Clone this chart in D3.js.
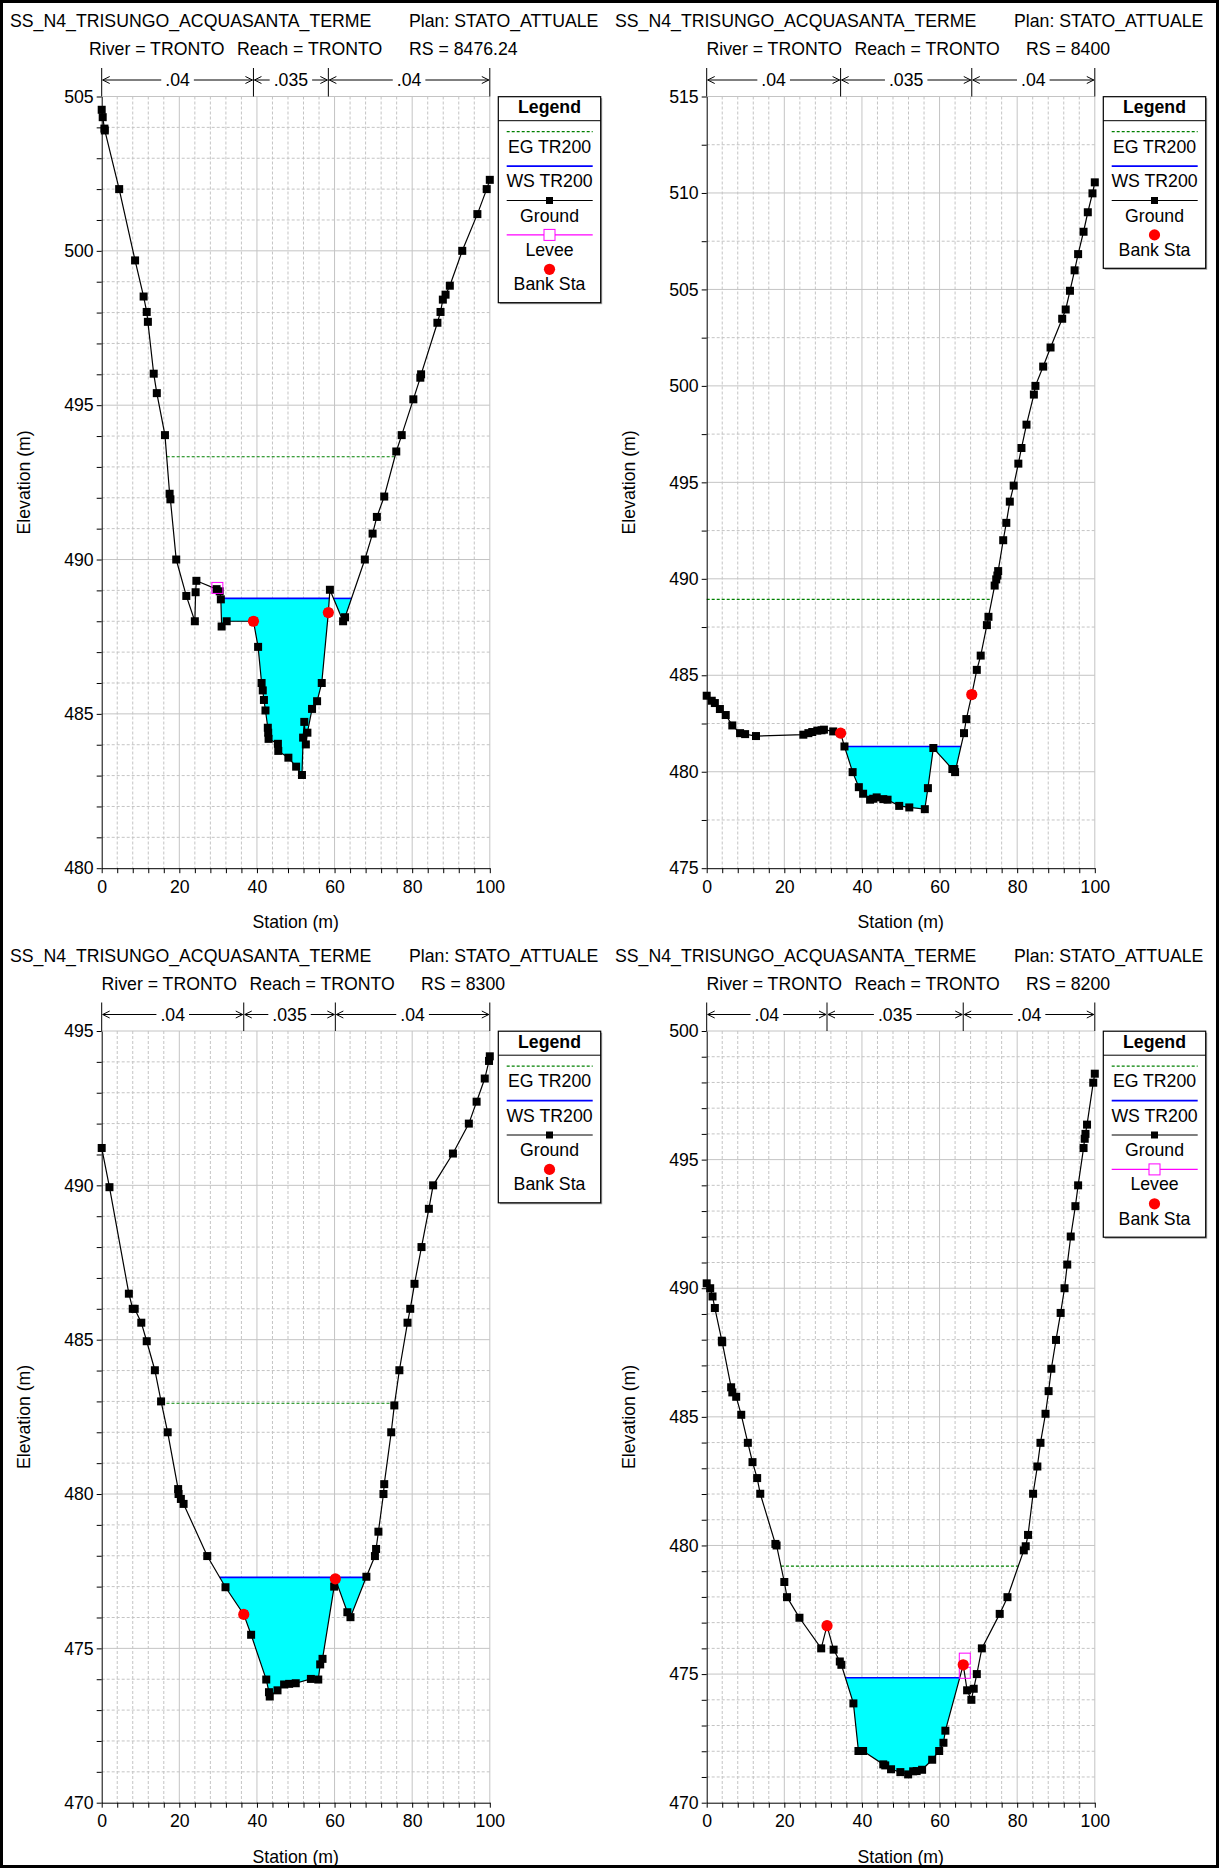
<!DOCTYPE html>
<html><head><meta charset="utf-8">
<script src="https://cdn.jsdelivr.net/npm/d3@7"></script>
<style>
body{margin:0;background:#fff;}
svg{display:block;}
text{font-family:"Liberation Sans",Arial,sans-serif;fill:#000;}
</style>
</head><body>
<svg id="c" width="1219" height="1868"></svg>
<script>
// ---------- DATA ----------
const titleText = "SS_N4_TRISUNGO_ACQUASANTA_TERME";
const planText = "Plan: STATO_ATTUALE";
const riverText = "River = TRONTO";
const reachText = "Reach = TRONTO";
const rsValues = ["8476.24", "8400", "8300", "8200"];
const mannN = [".04", ".035", ".04"];
const xTickValues = [0, 20, 40, 60, 80, 100];
const yDomains = [[480, 505], [475, 515], [470, 495], [470, 500]];
const yMinorSteps = [1, 2.5, 1, 1];
const wsElev = [488.74, 481.31, 477.30, 474.86];
const egElev = [493.33, 488.93, 482.94, 479.20];
const legendNames = ["EG TR200", "WS TR200", "Ground", "Levee", "Bank Sta"];

const ground1 = [[0,504.57],[0.26,504.33],[0.7,503.96],[0.8,503.9],[4.5,502.0],[8.6,499.69],[10.8,498.52],[11.6,498.02],[11.9,497.7],[13.4,496.02],[14.2,495.39],[16.3,494.03],[17.5,492.13],[17.7,491.95],[19.2,490.0],[21.8,488.82],[24.0,488.0],[24.2,488.94],[24.4,489.31],[29.6,489.04],[30.4,488.97],[30.7,488.71],[30.9,487.83],[32.2,488.0],[39.1,488.0],[40.3,487.17],[41.2,486.0],[41.5,485.76],[41.8,485.45],[42.2,485.11],[42.8,484.55],[42.9,484.39],[43.0,484.19],[45.4,484.03],[45.5,483.8],[48.1,483.58],[50.1,483.29],[51.6,483.02],[51.9,484.23],[52.2,484.74],[52.6,484.01],[53.0,484.39],[54.2,485.16],[55.5,485.41],[56.7,486.0],[58.4,488.28],[58.8,489.02],[62.2,488.0],[62.7,488.13],[67.8,490.0],[69.8,490.84],[70.9,491.38],[72.8,492.04],[75.9,493.5],[77.3,494.03],[80.3,495.19],[82.1,495.89],[82.3,496.0],[86.5,497.67],[87.3,498.02],[87.9,498.42],[88.6,498.58],[89.7,498.87],[92.9,500.0],[96.8,501.19],[99.2,502.0],[100,502.3]];
const ground2 = [[0,483.94],[1.3,483.68],[2.1,483.56],[3.4,483.25],[4.9,482.94],[6.6,482.4],[8.6,482.0],[9.9,481.95],[12.7,481.85],[24.9,481.92],[26.2,482.0],[27.2,482.06],[28.5,482.13],[29.6,482.15],[30.2,482.18],[32.6,482.09],[34.5,482.0],[35.5,481.31],[37.6,479.98],[39.2,479.2],[40.3,478.86],[42.1,478.55],[42.9,478.6],[43.8,478.67],[45.5,478.58],[46.6,478.55],[49.6,478.23],[52.2,478.15],[56.2,478.06],[57.0,479.15],[58.4,481.23],[63.3,480.14],[63.8,480.14],[64.0,479.98],[66.3,482.0],[66.9,482.73],[68.3,484.0],[69.6,485.28],[70.6,486.02],[72.2,487.6],[72.6,488.03],[74.2,489.65],[74.6,489.97],[74.9,490.17],[75.1,490.4],[76.4,492.0],[77.2,492.9],[78.1,494.0],[79.1,494.83],[80.3,495.97],[81.1,496.78],[82.4,497.99],[84.3,499.55],[84.7,500.0],[86.7,501.0],[88.6,501.99],[91.6,503.48],[92.5,503.96],[93.6,504.93],[94.8,505.99],[95.7,506.83],[97.1,507.99],[98.2,509.0],[99.4,509.98],[100,510.55]];
const ground3 = [[0,491.21],[2.0,489.94],[7.0,486.49],[8.0,486.0],[8.5,486.0],[10.2,485.55],[11.6,484.95],[13.7,484.01],[15.3,483.0],[17.0,482.0],[19.7,480.16],[19.8,480.0],[20.4,479.84],[21.1,479.68],[27.2,477.99],[31.9,476.98],[36.6,476.1],[38.5,475.44],[42.4,473.99],[43.1,473.58],[43.3,473.44],[45.3,473.64],[47.0,473.83],[48.3,473.85],[50.0,473.87],[53.9,474.01],[55.8,473.99],[56.3,474.48],[56.9,474.66],[59.9,477.0],[60.2,477.25],[63.3,476.17],[64.1,476.01],[68.2,477.32],[70.4,477.99],[70.7,478.22],[71.3,478.78],[72.6,480.0],[72.8,480.32],[74.6,482.0],[75.4,482.87],[76.7,484.01],[78.8,485.55],[79.5,486.0],[80.6,486.81],[82.4,488.0],[84.3,489.24],[85.4,490.0],[90.5,491.03],[94.6,492.0],[96.6,492.71],[98.7,493.46],[99.8,494.03],[100,494.18]];
const ground4 = [[0,490.19],[0.9,490.0],[1.5,489.68],[2.1,489.23],[3.9,487.96],[4.0,487.9],[6.3,486.15],[6.6,485.95],[7.6,485.78],[8.9,485.08],[10.6,483.99],[11.8,483.24],[13.0,482.62],[13.8,482.01],[17.7,480.06],[18.0,480.0],[20.0,478.58],[20.7,477.99],[23.9,477.19],[29.5,476.0],[31.0,476.88],[32.7,475.95],[34.3,475.49],[34.7,475.36],[37.8,473.86],[39.1,472.01],[40.3,472.01],[45.5,471.49],[46.0,471.45],[47.5,471.3],[49.9,471.19],[51.9,471.1],[53.2,471.22],[54.1,471.23],[55.5,471.28],[58.1,471.67],[59.9,472.01],[61.0,472.33],[61.5,472.8],[66.1,475.36],[67.1,474.37],[68.2,474.0],[68.8,474.43],[69.6,475.0],[70.9,476.0],[75.5,477.34],[77.5,477.99],[81.7,479.81],[82.2,479.97],[82.8,480.41],[84.1,482.01],[85.2,483.07],[86.0,483.99],[87.3,485.12],[88.1,486.0],[88.8,486.87],[90.0,487.99],[91.2,489.04],[92.2,490.0],[92.9,490.92],[93.8,492.01],[95.0,493.19],[95.7,494.0],[97.1,495.45],[97.4,495.81],[97.6,496.0],[98.0,496.36],[99.6,497.99],[100,498.34]];

const banks1 = [[39.1,488.0],[58.4,488.28]];
const banks2 = [[34.5,482.0],[68.3,484.0]];
const banks3 = [[36.6,476.1],[60.2,477.25]];
const banks4 = [[31.0,476.88],[66.1,475.36]];

const levees1 = [[29.8,489.08]];
const levees2 = [];
const levees3 = [];
const levees4 = [[66.5,475.6],[66.5,475.05]];

// ---------- LAYOUT ----------
const FONT = 17.7;
const PW = 605, PH = 934.5;
const X0 = 101.7, X1 = 489.8, YT = 96.5, YB = 868.2;

const svg = d3.select("#c");
svg.append("rect").attr("x",1.5).attr("y",1.5).attr("width",1216).attr("height",1865)
  .attr("fill","#fff").attr("stroke","#000").attr("stroke-width",3);

const panels = [
  {col:0,row:0,i:0,ground:ground1,banks:banks1,levees:levees1,wsRange:[29.8,100],lineX:[89,237,409]},
  {col:1,row:0,i:1,ground:ground2,banks:banks2,levees:levees2,wsRange:[0,100],lineX:[101.5,249.5,421]},
  {col:0,row:1,i:2,ground:ground3,banks:banks3,levees:levees3,wsRange:[0,100],lineX:[101.5,249.5,421]},
  {col:1,row:1,i:3,ground:ground4,banks:banks4,levees:levees4,wsRange:[0,66.3],lineX:[101.5,249.5,421]}
];

function wetIntervals(gr, level, lo, hi) {
  const pts = gr.filter(p => p[0] >= lo && p[0] <= hi);
  const res = []; let cur = null;
  for (let i = 0; i < pts.length; i++) {
    const p = pts[i];
    if (p[1] < level) {
      if (!cur) {
        if (i > 0) { const q = pts[i-1]; const t = (level-q[1])/(p[1]-q[1]); cur = [[q[0]+t*(p[0]-q[0]), level]]; }
        else cur = [[p[0], level]];
      }
      cur.push(p);
    } else if (cur) {
      const q = pts[i-1]; const t = (level-q[1])/(p[1]-q[1]);
      cur.push([q[0]+t*(p[0]-q[0]), level]); res.push(cur); cur = null;
    }
  }
  if (cur) { cur.push([pts[pts.length-1][0], level]); res.push(cur); }
  return res;
}

function txt(g, x, y, s, anchor) {
  const t = g.append("text").attr("x",x).attr("y",y).attr("font-size",FONT).text(s);
  if (anchor) t.attr("text-anchor",anchor);
  return t;
}

panels.forEach(drawPanel);

function drawPanel(p) {
  const g = svg.append("g").attr("transform",`translate(${p.col*PW},${p.row*PH})`);
  const [ymin, ymax] = yDomains[p.i];
  const x = d3.scaleLinear().domain([0,100]).range([X0,X1]);
  const y = d3.scaleLinear().domain([ymin,ymax]).range([YB,YT]);
  const step = yMinorSteps[p.i];
  const yTicks = d3.range(ymin, ymax + 1e-6, step);
  const xTicks = d3.range(0, 100.001, 4);
  const majY = v => Math.abs(v/5 - Math.round(v/5)) < 1e-6;
  const majX = v => xTickValues.some(t => Math.abs(t - v) < 1e-6);

  // titles
  txt(g, 10, 27, titleText);
  txt(g, 409, 27, planText);
  txt(g, p.lineX[0], 55, riverText);
  txt(g, p.lineX[1], 55, reachText);
  txt(g, p.lineX[2], 55, "RS = " + rsValues[p.i]);

  // grid
  const grid = g.append("g");
  grid.selectAll("line.gv").data(xTicks.filter(v => v > 0)).join("line").attr("class","gv")
    .attr("x1",d=>x(d)).attr("x2",d=>x(d)).attr("y1",YT).attr("y2",YB)
    .attr("stroke","#c4c4c4").attr("stroke-width",1)
    .attr("stroke-dasharray",d=>majX(d)?null:"3,2");
  grid.selectAll("line.gh").data(yTicks.filter(v => v > ymin)).join("line").attr("class","gh")
    .attr("x1",X0).attr("x2",X1).attr("y1",d=>y(d)).attr("y2",d=>y(d))
    .attr("stroke","#c4c4c4").attr("stroke-width",1)
    .attr("stroke-dasharray",d=>majY(d)?null:"3,2");

  // water
  const ws = wsElev[p.i];
  const line = d3.line().x(d=>x(d[0])).y(d=>y(d[1]));
  const wet = wetIntervals(p.ground, ws, p.wsRange[0], p.wsRange[1]);
  wet.forEach(seg => {
    g.append("path").attr("d", line(seg) + "Z").attr("fill","#00ffff").attr("stroke","none");
  });
  wet.forEach(seg => {
    g.append("line").attr("x1",x(seg[0][0])).attr("x2",x(seg[seg.length-1][0]))
      .attr("y1",y(ws)).attr("y2",y(ws)).attr("stroke","#0000ff").attr("stroke-width",1.6);
  });
  // EG
  const egs = wetIntervals(p.ground, egElev[p.i], 0, 100);
  const eg = egs.reduce((a,b) => (b[b.length-1][0]-b[0][0]) > (a[a.length-1][0]-a[0][0]) ? b : a);
  g.append("line").attr("x1",x(eg[0][0])).attr("x2",x(eg[eg.length-1][0]))
    .attr("y1",y(egElev[p.i])).attr("y2",y(egElev[p.i]))
    .attr("stroke","#008000").attr("stroke-width",1.2).attr("stroke-dasharray","3,2");

  // ground
  g.append("path").attr("d", line(p.ground)).attr("fill","none").attr("stroke","#000").attr("stroke-width",1.2);
  g.selectAll("rect.gm").data(p.ground).join("rect").attr("class","gm")
    .attr("x",d=>x(d[0])-4).attr("y",d=>y(d[1])-4).attr("width",8).attr("height",8).attr("fill","#000");
  // levee
  g.selectAll("rect.lv").data(p.levees).join("rect").attr("class","lv")
    .attr("x",d=>x(d[0])-5.5).attr("y",d=>y(d[1])-5.5).attr("width",11).attr("height",11)
    .attr("fill","none").attr("stroke","#ff00ff").attr("stroke-width",1);
  // banks
  g.selectAll("circle.bk").data(p.banks).join("circle").attr("class","bk")
    .attr("cx",d=>x(d[0])).attr("cy",d=>y(d[1])).attr("r",5.6).attr("fill","#ff0000");

  // axes
  const ya = d3.axisLeft(y).tickValues(yTicks).tickSize(5).tickSizeOuter(0).tickPadding(3)
    .tickFormat(d => majY(d) ? d3.format("d")(d) : "");
  const yg = g.append("g").attr("transform",`translate(${X0},0)`).call(ya);
  const xa = d3.axisBottom(x).tickValues(xTicks).tickSize(5).tickSizeOuter(0).tickPadding(7)
    .tickFormat(d => majX(d) ? d3.format("d")(d) : "");
  const xg = g.append("g").attr("transform",`translate(0,${YB})`).call(xa);
  [yg, xg].forEach(a => {
    a.attr("font-size",FONT).attr("font-family",'"Liberation Sans",Arial,sans-serif');
    a.selectAll("path,line").attr("stroke","#000").attr("stroke-width",1);
    a.selectAll("text").attr("fill","#000");
  });

  // axis titles
  g.append("text").attr("transform",`translate(30,${(YT+YB)/2}) rotate(-90)`)
    .attr("text-anchor","middle").attr("font-size",FONT).text("Elevation (m)");
  txt(g, (X0+X1)/2, 928, "Station (m)", "middle");

  // Manning's n bar
  const seps = [0, p.banks[0][0], p.banks[1][0], 100];
  const yb = 80, yTop = 68;
  seps.forEach(s => g.append("line").attr("x1",x(s)).attr("x2",x(s)).attr("y1",yTop).attr("y2",YT)
    .attr("stroke","#000").attr("stroke-width",1));
  mannN.forEach((lab, k) => {
    const xa0 = x(seps[k]), xb0 = x(seps[k+1]), xm = (xa0 + xb0) / 2;
    const t = txt(g, xm, yb + 6.3, lab, "middle");
    const w = t.node().getComputedTextLength();
    const segs = [[xa0 + 1, xm - w/2 - 4], [xm + w/2 + 4, xb0 - 1]];
    segs.forEach(s => g.append("line").attr("x1",s[0]).attr("x2",s[1]).attr("y1",yb).attr("y2",yb)
      .attr("stroke","#000").attr("stroke-width",1));
    const ah = 7, aw = 3.5;
    g.append("path").attr("d",`M${xa0+1+ah},${yb-aw}L${xa0+1},${yb}L${xa0+1+ah},${yb+aw}`)
      .attr("fill","none").attr("stroke","#000").attr("stroke-width",1);
    g.append("path").attr("d",`M${xb0-1-ah},${yb-aw}L${xb0-1},${yb}L${xb0-1-ah},${yb+aw}`)
      .attr("fill","none").attr("stroke","#000").attr("stroke-width",1);
  });

  // legend
  const items = legendNames.filter(n => n !== "Levee" || p.levees.length > 0);
  const lx = 498.3, ly = 96.7, lw = 102.4, hd = 24, sp = 34.4;
  const lh = hd + sp * items.length + 10;
  const lcx = lx + lw / 2;
  g.append("rect").attr("x",lx+1.5).attr("y",ly+1.5).attr("width",lw).attr("height",lh).attr("fill","#a0a0a0");
  g.append("rect").attr("x",lx).attr("y",ly).attr("width",lw).attr("height",lh)
    .attr("fill","#fff").attr("stroke","#000").attr("stroke-width",1.2);
  g.append("line").attr("x1",lx).attr("x2",lx+lw).attr("y1",ly+hd).attr("y2",ly+hd).attr("stroke","#000").attr("stroke-width",1);
  txt(g, lcx, ly + 16.3, "Legend", "middle").attr("font-weight","bold");
  items.forEach((name, k) => {
    const yl = ly + hd + 11 + sp * k;
    const l1 = lx + 8.4, l2 = lx + 94.4;
    if (name === "EG TR200") {
      g.append("line").attr("x1",l1).attr("x2",l2).attr("y1",yl).attr("y2",yl)
        .attr("stroke","#008000").attr("stroke-width",1.2).attr("stroke-dasharray","3,2");
    } else if (name === "WS TR200") {
      g.append("line").attr("x1",l1).attr("x2",l2).attr("y1",yl).attr("y2",yl)
        .attr("stroke","#0000ff").attr("stroke-width",1.6);
    } else if (name === "Ground") {
      g.append("line").attr("x1",l1).attr("x2",l2).attr("y1",yl).attr("y2",yl).attr("stroke","#000").attr("stroke-width",1.2);
      g.append("rect").attr("x",lcx-3.5).attr("y",yl-3.5).attr("width",7).attr("height",7).attr("fill","#000");
    } else if (name === "Levee") {
      g.append("line").attr("x1",l1).attr("x2",l2).attr("y1",yl).attr("y2",yl).attr("stroke","#ff00ff").attr("stroke-width",1.2);
      g.append("rect").attr("x",lcx-5.5).attr("y",yl-5.5).attr("width",11).attr("height",11)
        .attr("fill","#fff").attr("stroke","#ff00ff").attr("stroke-width",1);
    } else {
      g.append("circle").attr("cx",lcx).attr("cy",yl).attr("r",5.6).attr("fill","#ff0000");
    }
    txt(g, lcx, yl + 21, name, "middle");
  });
}
</script>
</body></html>
